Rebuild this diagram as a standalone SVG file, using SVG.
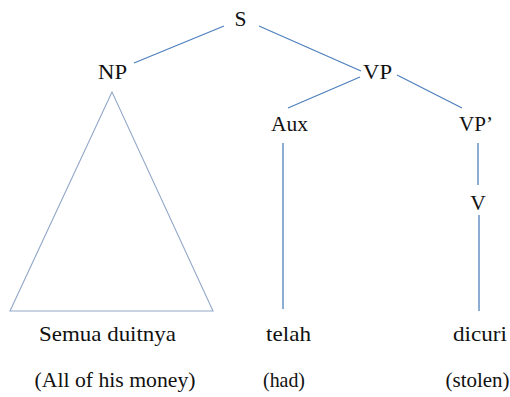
<svg xmlns="http://www.w3.org/2000/svg" width="510" height="397" viewBox="0 0 510 397">
  <style>
    .lbl { font-size: 21.5px; fill: #111; text-anchor: middle; }
    .edge { stroke: #4f81bd; stroke-width: 1.3; fill: none; }
    .tri { stroke: #93a8c8; stroke-width: 1.1; fill: none; }
  </style>
  <rect width="510" height="397" fill="#ffffff"/>

  <!-- branches -->
  <g id="connectors">
    <line class="edge" x1="134" y1="63" x2="224" y2="26"/>
    <line class="edge" x1="259" y1="26" x2="361" y2="71"/>
    <line class="edge" x1="360" y1="77" x2="288" y2="108"/>
    <line class="edge" x1="397" y1="75" x2="462" y2="108"/>
    <line class="edge" x1="283" y1="143" x2="283" y2="309"/>
    <line class="edge" x1="478" y1="143" x2="478" y2="185"/>
    <line class="edge" x1="479" y1="215" x2="479" y2="311" stroke-width="2"/>
    <polygon class="tri" points="112,92 10,311 213,311"/>
  </g>

  <g font-family="Liberation Serif, DejaVu Serif, serif">
    <g id="S"><text class="lbl" x="240.5" y="26">S</text></g>
    <g id="NP"><text class="lbl" x="112.5" y="79" textLength="29" lengthAdjust="spacingAndGlyphs">NP</text></g>
    <g id="VP"><text class="lbl" x="377.5" y="79" textLength="29" lengthAdjust="spacingAndGlyphs">VP</text></g>
    <g id="Aux"><text class="lbl" x="289.5" y="131" textLength="37" lengthAdjust="spacingAndGlyphs">Aux</text></g>
    <g id="VP2"><text class="lbl" x="476" y="131" textLength="34" lengthAdjust="spacingAndGlyphs">VP’</text></g>
    <g id="V"><text class="lbl" x="478" y="210">V</text></g>

    <g id="leaf-semua">
      <text class="lbl" x="107.5" y="341" textLength="137" lengthAdjust="spacingAndGlyphs">Semua duitnya</text>
      <text class="lbl" x="115" y="387" textLength="161" lengthAdjust="spacingAndGlyphs">(All of his money)</text>
    </g>
    <g id="leaf-telah">
      <text class="lbl" x="288.5" y="341" textLength="45" lengthAdjust="spacingAndGlyphs">telah</text>
      <text class="lbl" x="284" y="387" textLength="42" lengthAdjust="spacingAndGlyphs">(had)</text>
    </g>
    <g id="leaf-dicuri">
      <text class="lbl" x="480" y="341" textLength="54" lengthAdjust="spacingAndGlyphs">dicuri</text>
      <text class="lbl" x="477.5" y="387" textLength="64" lengthAdjust="spacingAndGlyphs">(stolen)</text>
    </g>
  </g>
</svg>
